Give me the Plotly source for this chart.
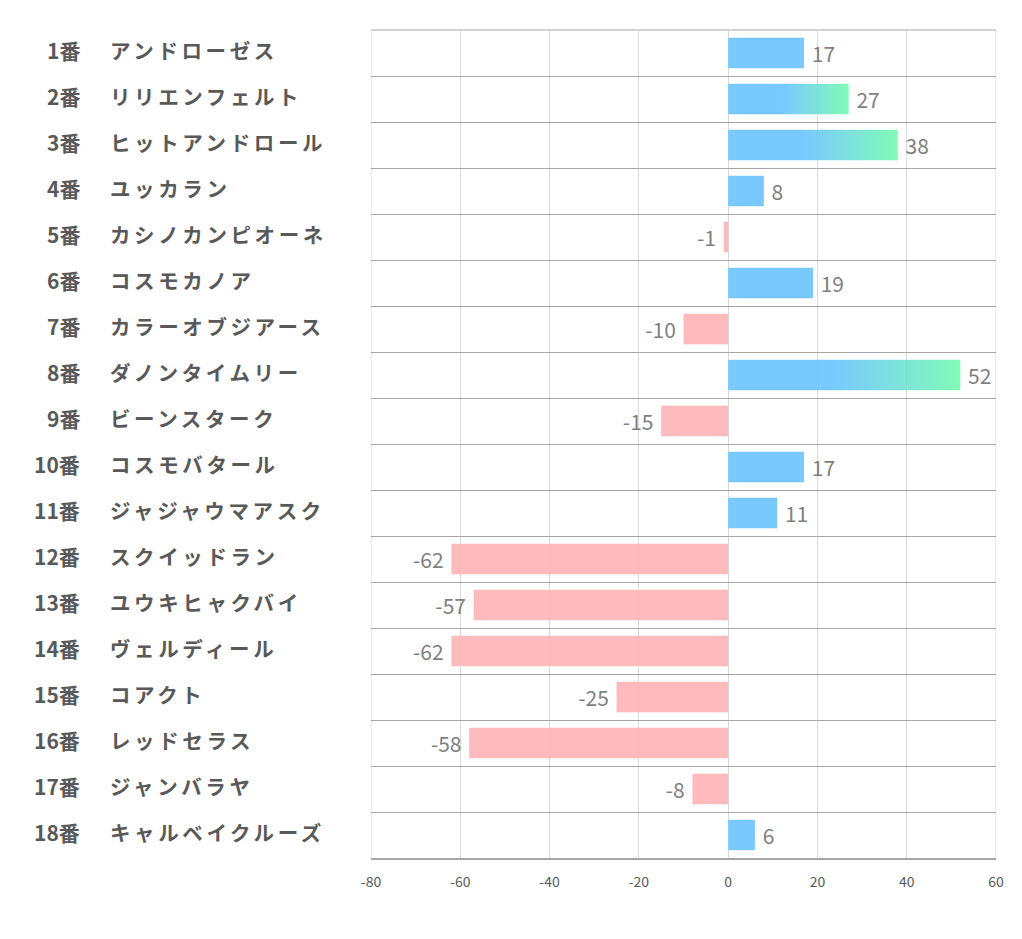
import plotly.graph_objects as go

numbers = [f"{i}番" for i in range(1, 19)]
names = ["アンドローゼス", "リリエンフェルト", "ヒットアンドロール", "ユッカラン", "カシノカンピオーネ",
         "コスモカノア", "カラーオブジアース", "ダノンタイムリー", "ビーンスターク", "コスモバタール",
         "ジャジャウマアスク", "スクイッドラン", "ユウキヒャクバイ", "ヴェルディール", "コアクト",
         "レッドセラス", "ジャンバラヤ", "キャルベイクルーズ"]
values = [17, 27, 38, 8, -1, 19, -10, 52, -15, 17, 11, -62, -57, -62, -25, -58, -8, 6]
x_ticks = [-80, -60, -40, -20, 0, 20, 40, 60]

BLUE = "rgba(106,195,255,0.9)"
GREEN = "rgba(115,250,175,0.9)"
PINK = "rgba(255,178,182,0.9)"
BAR_W = 0.66

# page offset (browser body margin)
OFF = 8
W, H = 1022 - OFF, 939 - OFF
L, R, T, B = 371 - OFF, 26, 30 - OFF, 81
PW = W - L - R

top3 = sorted(values, reverse=True)[:3]
highlight = [v in top3 and v > 0 for v in values]
ypos = list(range(len(values)))

colors = []
for v, h in zip(values, highlight):
    if h:
        colors.append("rgba(0,0,0,0)")
    elif v >= 0:
        colors.append(BLUE)
    else:
        colors.append(PINK)

texts = [f" {v}" if v >= 0 else f"{v} " for v in values]

fig = go.Figure()
fig.add_trace(go.Bar(
    x=values, y=ypos, orientation="h", width=BAR_W,
    marker=dict(color=colors, line=dict(width=0)),
    text=texts, textposition="outside", cliponaxis=False,
    outsidetextfont=dict(size=21, color="#7f7f7f", family="Noto Sans CJK JP"),
    textfont=dict(size=21, color="#7f7f7f", family="Noto Sans CJK JP"),
    hoverinfo="skip", showlegend=False,
))

for v, y, h in zip(values, ypos, highlight):
    if not h:
        continue
    y0, y1 = y - BAR_W / 2, y + BAR_W / 2
    fig.add_trace(go.Scatter(
        x=[0, v, v, 0, 0], y=[y0, y0, y1, y1, y0],
        mode="lines", fill="toself", line=dict(width=0),
        fillgradient=dict(type="horizontal",
                          colorscale=[[0, BLUE], [0.45, BLUE], [1, GREEN]]),
        hoverinfo="skip", showlegend=False,
    ))

annotations = []
for y, num in zip(ypos, numbers):
    annotations.append(dict(x=(82 - OFF - L) / PW, xref="paper", y=y, yref="y", text=f"<b>{num}</b>",
                            showarrow=False, xanchor="right", yanchor="middle", yshift=3,
                            font=dict(size=21, color="#595959", family="Noto Sans CJK JP")))
for y, nm in zip(ypos, names):
    annotations.append(dict(x=(108 - OFF - L) / PW, xref="paper", y=y, yref="y",
                            text=f'<span style="letter-spacing:3.6px"><b>{nm}</b></span>',
                            showarrow=False, xanchor="left", yanchor="middle", yshift=3,
                            font=dict(size=20.5, color="#595959", family="Noto Sans CJK JP")))

shapes = [
    dict(type="line", xref="paper", yref="paper", x0=0, x1=1, y0=1, y1=1,
         line=dict(color="#a6a6a6", width=1), layer="below"),
    dict(type="line", xref="x", yref="paper", x0=-80, x1=-80, y0=0, y1=1,
         line=dict(color="#d9d9d9", width=1), layer="below"),
    dict(type="line", xref="x", yref="paper", x0=60, x1=60, y0=0, y1=1,
         line=dict(color="#d9d9d9", width=1), layer="below"),
]

fig.update_layout(
    width=W, height=H,
    margin=dict(l=L, r=R, t=T, b=B),
    plot_bgcolor="white", paper_bgcolor="white",
    annotations=annotations, shapes=shapes,
    xaxis=dict(range=[-80, 60], tickvals=x_ticks, ticktext=[str(t) for t in x_ticks],
               showgrid=True, gridcolor="#d9d9d9", gridwidth=1, zeroline=False,
               showline=True, linecolor="#a6a6a6", linewidth=1.5,
               tickfont=dict(size=14, color="#595959", family="Noto Sans CJK JP"),
               ticks="", ticklabelstandoff=10, fixedrange=True),
    yaxis=dict(range=[len(values) - 0.5, -0.5], tickvals=[k - 0.5 for k in range(len(values) + 1)],
               showticklabels=False, showgrid=True, gridcolor="#a6a6a6", gridwidth=1,
               zeroline=False, showline=False, fixedrange=True),
    bargap=0.3,
)

fig.write_html("out.html")
